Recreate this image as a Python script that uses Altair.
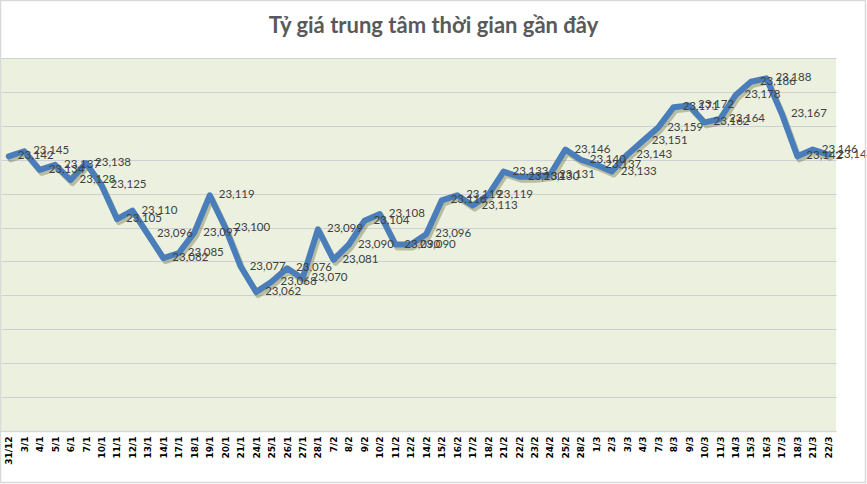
import altair as alt
import pandas as pd

dates = ["31/12", "3/1", "4/1", "5/1", "6/1", "7/1", "10/1", "11/1", "12/1", "13/1",
         "14/1", "17/1", "18/1", "19/1", "20/1", "21/1", "24/1", "25/1", "26/1", "27/1",
         "28/1", "7/2", "8/2", "9/2", "10/2", "11/2", "12/2", "14/2", "15/2", "16/2",
         "17/2", "18/2", "21/2", "22/2", "23/2", "24/2", "25/2", "28/2", "1/3", "2/3",
         "3/3", "4/3", "7/3", "8/3", "9/3", "10/3", "11/3", "14/3", "15/3", "16/3",
         "17/3", "18/3", "21/3", "22/3"]
rates = [23142, 23145, 23134, 23137, 23128, 23138, 23125, 23105, 23110, 23096,
         23082, 23085, 23097, 23119, 23100, 23077, 23062, 23068, 23076, 23070,
         23099, 23081, 23090, 23104, 23108, 23090, 23090, 23096, 23116, 23119,
         23113, 23119, 23133, 23130, 23130, 23131, 23146, 23140, 23137, 23133,
         23143, 23151, 23159, 23171, 23172, 23162, 23164, 23178, 23186, 23188,
         23167, 23142, 23146, 23143]
y_ticks = [22980, 23000, 23020, 23040, 23060, 23080, 23100, 23120, 23140,
           23160, 23180, 23200]
title_text = "Tỷ giá trung tâm thời gian gần đây"

df = pd.DataFrame({"date": dates, "rate": rates})

x_enc = alt.X("date:N", sort=dates, title=None,
              scale=alt.Scale(paddingInner=0, paddingOuter=0),
              axis=alt.Axis(labelAngle=270, labelFont="DejaVu Sans", labelFontSize=9,
                            labelFontWeight="bold", labelColor="#000000", ticks=False,
                            domainColor="#D9D9D9", domainWidth=1.5, labelPadding=5,
                            grid=False))
y_enc = alt.Y("rate:Q", title=None,
              scale=alt.Scale(domain=[y_ticks[0], y_ticks[-1]], nice=False, zero=False),
              axis=alt.Axis(values=y_ticks, labels=False, ticks=False, domain=False,
                            grid=True, gridColor="#CFCFD8", gridWidth=1))

base = alt.Chart(df)

shadow = base.mark_line(color="#5C5C2E", opacity=0.35, strokeWidth=6,
                        strokeJoin="round", strokeCap="round",
                        xOffset=2, yOffset=3).encode(x=x_enc, y=y_enc)
line = base.mark_line(color="#4A7EBB", strokeWidth=6, strokeJoin="round",
                      strokeCap="round").encode(x=x_enc, y=y_enc)
labels = base.mark_text(align="left", baseline="middle", dx=9, font="Lato",
                        fontSize=11.5, color="#404040").encode(
    x=x_enc, y=y_enc, text=alt.Text("rate:Q", format=","))

frame = alt.Chart(alt.Data(values=[{"k": 1}])).mark_rect(
    filled=False, stroke="#D9D9D9", strokeWidth=1.5).encode(
    x=alt.value(-0.5), x2=alt.value(864.5), y=alt.value(-57.5), y2=alt.value(424.5))

chart = alt.layer(shadow, line, labels, frame).properties(
    width=835, height=373,
    autosize=alt.AutoSizeParams(type="none"),
    padding={"left": 1, "top": 58, "right": 31, "bottom": 53},
    background="#FFFFFF",
    title=alt.TitleParams(title_text, font="Lato", fontSize=22, fontWeight="bold",
                          color="#595959", anchor="middle", baseline="alphabetic",
                          frame="group", offset=0, dy=55, dx=15),
).configure_view(fill="#EBF1DE", stroke=None, clip=False)

chart.save("out.html", embed_options={"renderer": "svg", "actions": False})
